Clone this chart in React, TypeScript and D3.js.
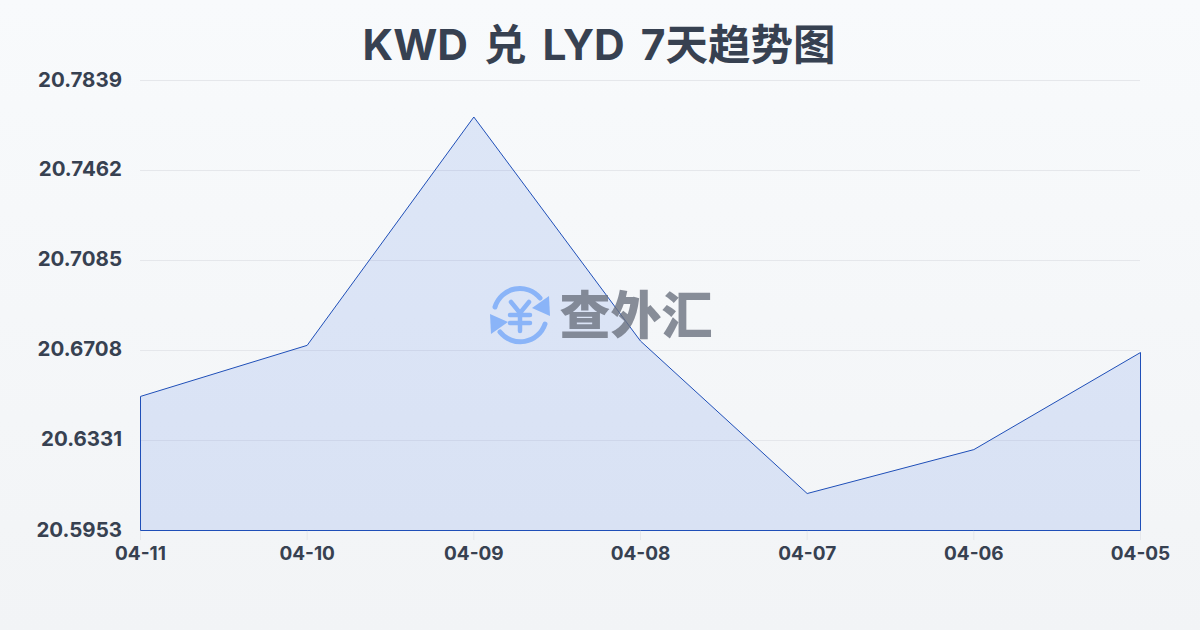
import React from "react";
import * as d3 from "d3";

const dates = ["04-11", "04-10", "04-09", "04-08", "04-07", "04-06", "04-05"];
const rates = [20.6515, 20.6729, 20.7686, 20.6747, 20.6108, 20.6292, 20.6699];
const yTicks = [20.5953, 20.6331, 20.6708, 20.7085, 20.7462, 20.7839];
const title = "KWD 兑 LYD 7天趋势图";
const brand = "查外汇";
const FONT = "Inter, 'Noto Sans CJK SC', sans-serif";

export default function App() {
  const x = d3.scalePoint<string>().domain(dates).range([140.5, 1140.5]);
  const y = d3.scaleLinear().domain([20.5953, 20.7839]).range([530.5, 80.5]);
  const pts = dates.map((d, i) => ({ d, v: rates[i] }));
  const area = d3.area<{ d: string; v: number }>()
    .x((p) => x(p.d)!)
    .y0(y(20.5953))
    .y1((p) => y(p.v));
  const areaPath = area(pts)! + "Z";

  return (
    <svg width={1200} height={630} style={{ position: "fixed", left: 0, top: 0, display: "block" }}>
      <defs>
        <linearGradient id="bg" x1="0" y1="0" x2="0" y2="1">
          <stop offset="0" stopColor="#f8fafc" />
          <stop offset="1" stopColor="#f2f4f6" />
        </linearGradient>
      </defs>
      <rect width={1200} height={630} fill="url(#bg)" />
      <text x={599} y={60} textAnchor="middle" fontFamily={FONT} fontWeight={700} fontSize={42.5} wordSpacing={6} fill="#374151">{title}</text>
      {yTicks.map((t) => (
        <line key={t} x1={140} x2={1140} y1={Math.floor(y(t)) + 0.5} y2={Math.floor(y(t)) + 0.5} stroke="#e5e7eb" strokeWidth={1} />
      ))}
      {dates.map((d) => (
        <line key={d} x1={x(d)} x2={x(d)} y1={530} y2={540} stroke="#e5e7eb" strokeWidth={1} />
      ))}
      <path d={areaPath} fill="#4c78e2" fillOpacity={0.15} stroke="none" />
      <path d={areaPath} fill="none" stroke="#1f4fb8" strokeWidth={1} strokeLinejoin="round" />
      {yTicks.map((t) => (
        <text key={t} x={122} y={y(t) + 6} textAnchor="end" fontFamily={FONT} fontWeight={700} fontSize={20.5} fill="#374151">{t.toFixed(4)}</text>
      ))}
      {dates.map((d) => (
        <text key={d} x={x(d)} y={560} textAnchor="middle" fontFamily={FONT} fontWeight={700} fontSize={19} fill="#374151">{d}</text>
      ))}
      <g transform="translate(520 315)" fill="none" stroke="#8ab4f8" strokeLinecap="round">
        <path d="M-25,-8 A26,26 0 0 1 20,-17" strokeWidth={5} />
        <path d="M25,9 A26,26 0 0 1 -20,17" strokeWidth={5} />
        <path d="M29,-19 L30,1 L12,-7 Z" fill="#8ab4f8" stroke="none" />
        <path d="M-29,19 L-30,-1 L-12,7 Z" fill="#8ab4f8" stroke="none" />
        <path d="M-9,-13 L0,-2 L9,-13 M-10,0 L10,0 M-10,8 L10,8 M0,-2 L0,16" strokeWidth={4.5} />
      </g>
      <text x={636} y={334} textAnchor="middle" fontFamily="'Noto Sans CJK SC', sans-serif" fontWeight={900} fontSize={51} fill="#6b7280" fillOpacity={0.8}>{brand}</text>
    </svg>
  );
}
